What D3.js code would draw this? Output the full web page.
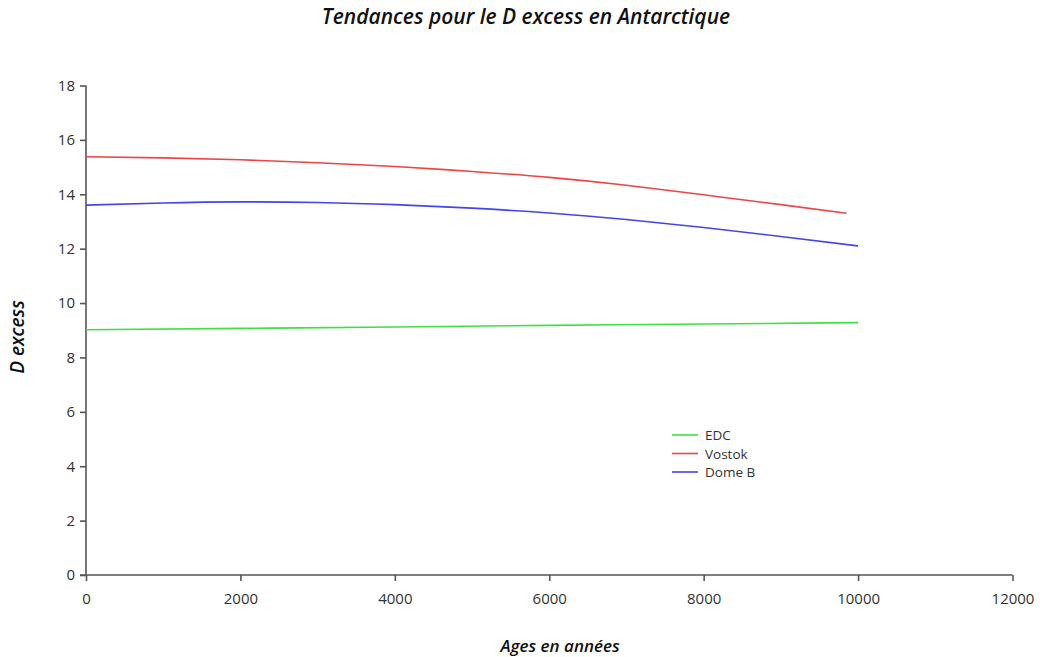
<!DOCTYPE html>
<html><head><meta charset="utf-8">
<script src="https://cdn.jsdelivr.net/npm/d3@7"></script>
<style>body{margin:0;background:#fff}</style>
</head><body>
<svg id="chart" width="1040" height="657"></svg>
<script>
const title = "Tendances pour le D excess en Antarctique";
const xLabel = "Ages en années";
const yLabel = "D excess";
const xTicks = [0,2000,4000,6000,8000,10000,12000];
const yTicks = [0,2,4,6,8,10,12,14,16,18];
const seriesNames = ["EDC","Vostok","Dome B"];
const seriesColors = ["#3fe03f","#ee4444","#4444ee"];
const edcAges = [0,2000,4000,6000,8000,10000];
const edcValues = [9.02,9.07,9.12,9.18,9.23,9.28];
const vostokAges = [0,1000,2000,3000,4000,5000,6000,7000,8000,9000,9850];
const vostokValues = [15.38,15.34,15.27,15.16,15.02,14.84,14.62,14.33,13.98,13.62,13.30];
const domeBAges = [0,1000,2000,3000,4000,5000,6000,7000,8000,9000,10000];
const domeBValues = [13.60,13.68,13.72,13.70,13.62,13.49,13.31,13.07,12.78,12.45,12.10];

const svg = d3.select("#chart");
const x = d3.scaleLinear().domain([0,12000]).range([86,1012.5]);
const y = d3.scaleLinear().domain([0,18]).range([575,85.5]);
const axisColor = "#555";
const textColor = "#333";
const font = "'Open Sans', 'Noto Sans', sans-serif";

const gx = svg.append("g").attr("transform",`translate(0,${y(0)})`)
  .call(d3.axisBottom(x).tickValues(xTicks).tickFormat(d3.format("d")).tickSizeOuter(0).tickSize(6).tickPadding(12));
const gy = svg.append("g").attr("transform",`translate(${x(0)},0)`)
  .call(d3.axisLeft(y).tickValues(yTicks).tickSizeOuter(0).tickSize(6).tickPadding(5));
[gx,gy].forEach(g=>{
  g.selectAll("path,line").attr("stroke",axisColor).attr("stroke-width",1.6);
  g.selectAll("text").attr("fill",textColor).style("font-family",font).style("font-size","15px");
});
gy.select(".domain").attr("d",`M0,${y(18)}V${y(0)}`);
gx.select(".domain").attr("d",`M${x(0)-6},0H${x(12000)}`);

const series = [
  {ages: edcAges, values: edcValues},
  {ages: vostokAges, values: vostokValues},
  {ages: domeBAges, values: domeBValues}
];
const line = d3.line().x(d=>x(d[0])).y(d=>y(d[1])).curve(d3.curveNatural);
series.forEach((s,i)=>{
  svg.append("path").datum(s.ages.map((a,j)=>[a,s.values[j]]))
    .attr("d",line).attr("fill","none").attr("stroke",seriesColors[i]).attr("stroke-width",1.6);
});

// legend
const lg = svg.append("g");
seriesNames.forEach((n,i)=>{
  const yy = 435 + i*18.5;
  lg.append("line").attr("x1",672).attr("x2",698).attr("y1",yy).attr("y2",yy)
    .attr("stroke",seriesColors[i]).attr("stroke-width",1.6);
  lg.append("text").attr("x",705).attr("y",yy+5).text(n)
    .attr("fill",textColor).style("font-family",font).style("font-size","13.5px");
});

svg.append("text").attr("x",526).attr("y",24).attr("text-anchor","middle").text(title)
  .attr("fill","#111").style("font-family",font).style("font-size","21px").style("font-style","italic").style("font-weight","600");
svg.append("text").attr("x",560).attr("y",652).attr("text-anchor","middle").text(xLabel)
  .attr("fill","#111").style("font-family",font).style("font-size","17px").style("font-style","italic").style("font-weight","600");
svg.append("text").attr("transform","translate(24,337) rotate(-90)").attr("text-anchor","middle").text(yLabel)
  .attr("fill","#111").style("font-family",font).style("font-size","19px").style("font-style","italic").style("font-weight","600");
</script>
</body></html>
